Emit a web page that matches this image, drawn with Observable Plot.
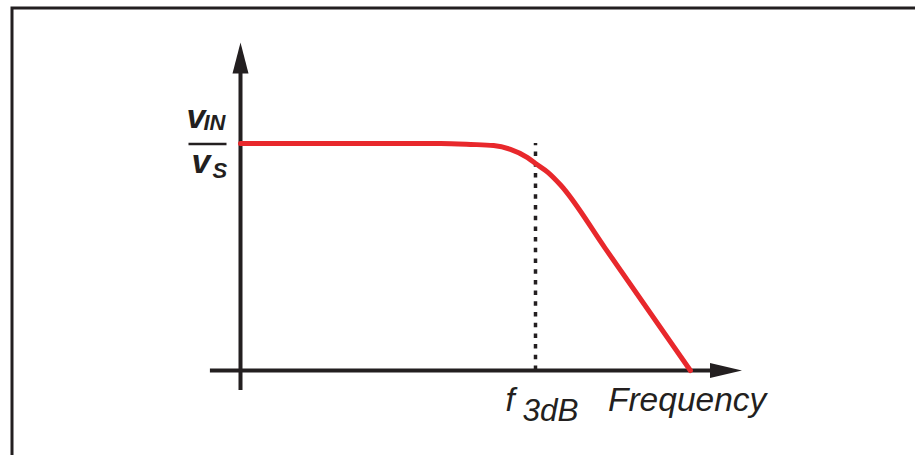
<!DOCTYPE html>
<html>
<head>
<meta charset="utf-8">
<script src="https://cdn.jsdelivr.net/npm/d3@7"></script>
<script src="https://cdn.jsdelivr.net/npm/@observablehq/plot@0.6"></script>
<style>
  html, body { margin: 0; padding: 0; background: #fff; }
  #chart svg { display: block; }
</style>
</head>
<body>
<div id="chart"></div>
<script>
// Normalised frequency (f / f3dB) and normalised gain (vIN / vS)
const freq = [0, 0.678, 0.780, 0.858, 0.915, 0.973, 1.0, 1.041, 1.085, 1.237, 1.525];
const gain = [1, 1, 0.996, 0.991, 0.974, 0.938, 0.912, 0.874, 0.817, 0.537, 0];
const f3dB = 1;
const passGain = 1;
// Axis extents (data units)
const xAxisExtent = [-0.102, 1.70];
const yAxisExtent = [-0.088, 1.445];
// Labels
const yLabelParts = ["v", "IN", "v", "S"];
const xLabelParts = ["f", "3dB", "Frequency"];

const curve = freq.map((f, i) => ({f, g: gain[i]}));
const ink = "#231f20";
const red = "#e8282c";
const font = "Liberation Sans, Arial, Helvetica, sans-serif";

const upArrow = {draw(ctx) { ctx.moveTo(0, 0); ctx.lineTo(8, 31); ctx.lineTo(-8, 31); ctx.closePath(); }};
const rightArrow = {draw(ctx) { ctx.moveTo(0, 0); ctx.lineTo(-32, -7.5); ctx.lineTo(-32, 7.5); ctx.closePath(); }};
const fracBar = {draw(ctx) { ctx.rect(-19, -1.3, 38, 2.6); }};

const txt = (s, x, y, o) => Plot.text([{s, x, y}], {
  x: "x", y: "y", text: "s", textAnchor: "start", lineAnchor: "bottom",
  fontFamily: font, fontStyle: "italic", fill: ink, ...o
});

const chart = Plot.plot({
  width: 915,
  height: 455,
  margin: 0,
  x: {domain: [-240 / 295, 675 / 295], axis: null},
  y: {domain: [-85 / 227, 370 / 227], axis: null},
  marks: [
    Plot.frame({stroke: ink, strokeWidth: 3, insetLeft: 11.5, insetTop: 7.5, insetRight: -1, insetBottom: -10}),
    // axes
    Plot.ruleX([0], {y1: yAxisExtent[0], y2: yAxisExtent[1] - 0.1, stroke: ink, strokeWidth: 4}),
    Plot.ruleY([0], {x1: xAxisExtent[0], x2: xAxisExtent[1] - 0.08, stroke: ink, strokeWidth: 4}),
    Plot.dot([{x: 0, y: yAxisExtent[1]}], {x: "x", y: "y", symbol: upArrow, fill: ink, stroke: null}),
    Plot.dot([{x: xAxisExtent[1], y: 0}], {x: "x", y: "y", symbol: rightArrow, fill: ink, stroke: null}),
    // -3 dB marker
    Plot.ruleX([f3dB], {y1: 0, y2: passGain, stroke: ink, strokeWidth: 3.5, strokeDasharray: "4.5,6.2"}),
    // response
    Plot.line(curve, {x: "f", y: "g", stroke: red, strokeWidth: 5, curve: "monotone-x", strokeLinejoin: "round"}),
    // y label  vIN / vS
    txt(yLabelParts[0], 0, passGain, {dx: -54, dy: -16, fontSize: 34, fontWeight: "bold"}),
    txt(yLabelParts[1], 0, passGain, {dx: -37, dy: -14, fontSize: 22, fontWeight: "bold"}),
    Plot.dot([{x: 0, y: passGain}], {x: "x", y: "y", symbol: fracBar, fill: ink, stroke: null, dx: -33, dy: 0.5}),
    txt(yLabelParts[2], 0, passGain, {dx: -49, dy: 29, fontSize: 34, fontWeight: "bold"}),
    txt(yLabelParts[3], 0, passGain, {dx: -28, dy: 34, fontSize: 22, fontWeight: "bold"}),
    // x labels
    txt(xLabelParts[0], f3dB, 0, {dx: -30, dy: 40, fontSize: 33}),
    txt(xLabelParts[1], f3dB, 0, {dx: -13, dy: 50, fontSize: 31.5}),
    txt(xLabelParts[2], xAxisExtent[1], 0, {dx: -134, dy: 40, fontSize: 33.5})
  ]
});
document.getElementById("chart").append(chart);
</script>
</body>
</html>
